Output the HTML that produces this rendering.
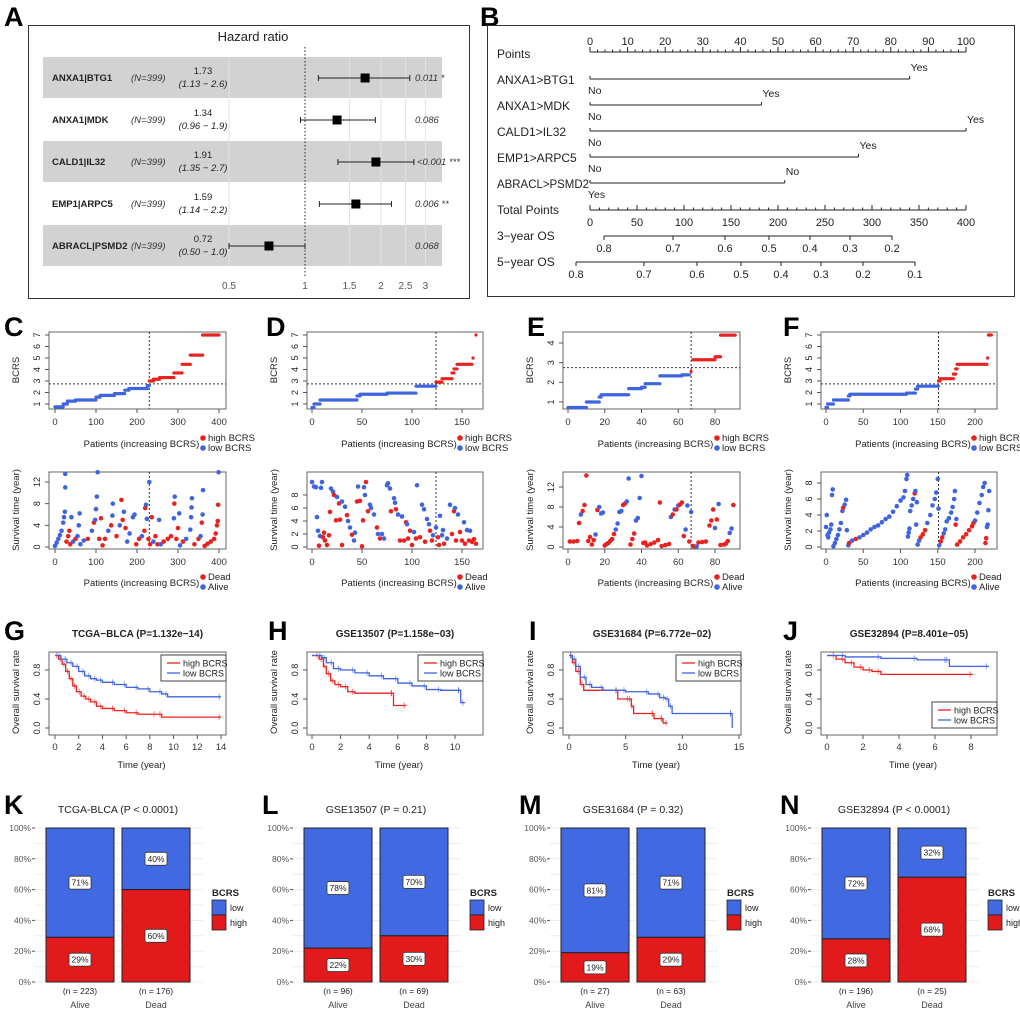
<!DOCTYPE html>
<html><head><meta charset="utf-8">
<style>
html,body{margin:0;padding:0;background:#fff;}
svg{display:block;font-family:"Liberation Sans",Arial,sans-serif;}
</style></head>
<body>
<svg id="fig" width="1020" height="1012" viewBox="0 0 1020 1012" xmlns="http://www.w3.org/2000/svg"></svg>
<script>
// ---------- DATA ----------
const hrNames=["ANXA1|BTG1","ANXA1|MDK","CALD1|IL32","EMP1|ARPC5","ABRACL|PSMD2"];
const hrValues=[1.73,1.34,1.91,1.59,0.72];
const hrLow=[1.13,0.96,1.35,1.14,0.50];
const hrHigh=[2.6,1.9,2.7,2.2,1.0];
const hrLowTxt=["1.13","0.96","1.35","1.14","0.50"];
const hrHighTxt=["2.6","1.9","2.7","2.2","1.0"];
const hrP=["0.011 *","0.086","<0.001 ***","0.006 **","0.068"];
const hrTicks=[0.5,1,1.5,2,2.5,3];

const nomoVars=["ANXA1>BTG1","ANXA1>MDK","CALD1>IL32","EMP1>ARPC5","ABRACL>PSMD2"];
const nomoEnd=[85,45.6,100,71.4,51.8];
const nomoEndLbl=["Yes","Yes","Yes","Yes","No"];
const nomoStartLbl=["No","No","No","No","Yes"];
const os3Probs=[0.8,0.7,0.6,0.5,0.4,0.3,0.2];
const os3Pts=[14.9,88.3,143.6,190.4,234,276.6,321.3];
const os5Probs=[0.8,0.7,0.6,0.5,0.4,0.3,0.2,0.1];
const os5Pts=[-14.9,57.4,113.8,160.6,203.2,245.7,290.4,345.7];

const riskN=[399,166,91,222];
const riskCut=[230,124,67,151];
const stepsC=[[0,20,0.75],[20,30,1.0],[30,50,1.25],[50,100,1.35],[100,110,1.6],[110,145,1.75],[145,170,1.9],[170,180,2.2],[180,225,2.35],[225,230,2.6],[230,240,3.0],[240,255,3.15],[255,290,3.3],[290,310,3.7],[310,330,4.45],[330,360,5.25],[360,400,7.0]];
const stepsD=[[0,2,0.7],[2,8,1.0],[8,45,1.35],[45,48,1.7],[48,75,1.85],[75,104,1.95],[104,124,2.55],[124,130,2.9],[130,140,3.2],[140,142,3.7],[142,145,4.05],[145,160,4.45],[161,161,5.0],[164,164,7.0]];
const stepsE=[[0,10,0.72],[10,17,1.0],[17,18,1.25],[18,33,1.37],[33,40,1.68],[40,42,1.75],[42,50,1.93],[50,62,2.33],[62,66,2.38],[67,67,2.55],[68,80,3.15],[80,83,3.3],[83,91,4.4]];
const stepsF=[[0,2,0.7],[2,10,1.0],[10,30,1.35],[30,32,1.7],[32,108,1.85],[108,120,1.95],[120,123,2.3],[123,151,2.55],[151,153,3.0],[153,171,3.2],[171,174,3.6],[174,176,4.05],[176,216,4.45],[217,217,5.0],[218,222,7.0]];

const survC=[[0,0.2,0],[4,0.8,0],[8,1.5,0],[12,2.2,0],[16,3,0],[20,4.5,0],[22,5.5,0],[24,6.5,0],[25,11,0],[25,13.5,0],[28,1,1],[32,2,1],[35,3,1],[37,0.5,1],[40,5.5,0],[44,1,0],[50,1.5,1],[55,2,0],[58,4,0],[60,6.2,0],[62,0.5,0],[70,1.2,0],[80,1.5,1],[90,3,0],[95,4.5,1],[98,5,0],[100,7,0],[102,9.3,0],[104,13.8,0],[108,1.5,1],[112,5.3,1],[116,0.3,1],[122,1.5,1],[130,3,0],[137,4,1],[140,5.8,0],[141,8,0],[150,2,1],[158,4,0],[162,8.7,1],[165,5,1],[168,6.5,0],[172,3.5,1],[176,1,0],[182,2.5,0],[190,5.5,0],[194,6,0],[198,0.5,1],[205,1.5,1],[212,2,0],[218,3,1],[220,7.2,1],[222,7.8,0],[224,5.2,0],[228,1.5,1],[230,12,0],[232,0.5,1],[236,5.5,1],[240,1,0],[245,2,1],[250,0.5,1],[254,5,0],[258,0.5,0],[265,1,1],[275,1.5,1],[283,2,1],[290,5.3,0],[291,8,1],[292,9.3,0],[296,1.5,1],[300,3.5,1],[303,6.2,0],[305,0.3,0],[312,1,1],[320,1.5,0],[330,3.2,0],[332,5.5,0],[333,7.3,0],[334,9,0],[340,0.5,1],[350,1.5,1],[355,2,0],[358,4.5,1],[360,6,0],[361,10.5,0],[365,0.2,1],[372,0.6,1],[380,1,1],[388,1.5,1],[392,2.5,1],[395,4,1],[397,4.8,1],[398,7.8,1],[399,13.8,0]];
const survD=[[0,10,0],[2,9.3,0],[4,9.2,0],[5,4.6,0],[6,2.5,0],[7,0.2,1],[8,1.7,0],[9,9.1,0],[10,10,0],[11,1.5,1],[12,2.2,1],[13,1,1],[15,0.3,1],[17,1.8,1],[18,5.4,1],[19,9,0],[21,8.5,0],[22,8,1],[24,4.1,1],[25,7.7,0],[27,6.7,1],[28,4.2,1],[30,0.3,1],[30,7,0],[33,6.2,0],[35,4.9,1],[36,4,0],[38,3,0],[40,1.9,1],[42,1,0],[43,2.2,0],[45,7,1],[46,9.3,0],[48,7.1,1],[50,0.1,1],[51,4.1,1],[52,9.2,0],[53,8,0],[54,10,1],[56,5.5,1],[58,6.5,0],[59,6,0],[62,5,0],[65,3,1],[66,2,0],[68,1.3,1],[70,2,0],[72,1.3,0],[75,9.5,0],[76,9.8,0],[78,9,0],[79,5.5,1],[82,7.5,0],[83,6.8,0],[84,5.8,1],[86,5,0],[88,1,1],[90,4.7,0],[92,1,1],[94,3.8,1],[95,3.5,0],[96,1.3,1],[98,2.5,1],[100,0.3,1],[102,2.3,0],[104,1.3,1],[105,9.5,0],[108,1.5,1],[110,6.5,0],[112,5.8,0],[113,0.8,1],[115,4.3,0],[117,3.5,0],[118,2.5,1],[120,1,1],[121,1.8,0],[124,3,0],[126,1.5,1],[127,0.3,1],[128,4.8,0],[130,1.8,0],[131,2.6,0],[132,0.5,1],[135,1.3,0],[138,6.5,0],[140,2,1],[142,5.5,1],[143,6,0],[144,1,1],[146,5,0],[148,2.3,1],[150,1,1],[152,3.8,0],[153,0.5,1],[155,2.6,0],[157,1,1],[158,2.5,0],[160,0.8,1],[162,1.2,1],[164,0.5,1]];
const survE=[[1,1.1,1],[3,1.1,1],[5,1.2,1],[6,4.8,1],[7,6.5,0],[8,7.2,1],[9,8.4,1],[10,14.3,1],[11,1.2,1],[12,2,1],[13,0.5,1],[14,1.4,1],[15,2.5,0],[16,7.4,1],[17,8,0],[18,6.7,0],[19,6.9,0],[20,0.3,1],[21,0.6,1],[22,0.8,1],[23,1.2,1],[24,1.6,1],[25,2.6,1],[26,3.5,0],[27,4.7,0],[28,7,0],[29,7.2,0],[30,8.4,1],[31,8.7,1],[32,9.1,0],[33,13.7,0],[34,0.5,1],[35,1.6,1],[36,2.7,1],[37,5.3,0],[38,5.8,0],[39,9.8,0],[40,14.2,0],[41,0.8,1],[42,0.9,1],[43,0.3,1],[45,0.6,1],[47,0.9,1],[49,1.4,1],[50,8.9,1],[51,0.2,1],[53,0.4,1],[55,0.6,1],[56,6,0],[57,6.5,1],[58,7.5,0],[59,7.5,1],[60,8.3,0],[61,8.5,1],[62,8.9,1],[63,2.2,1],[64,3.5,0],[65,8.3,0],[66,1.1,1],[67,7,0],[68,0.2,1],[69,0.1,1],[70,0.1,0],[71,0.9,1],[73,1,1],[75,1.1,1],[77,4.3,1],[78,5.3,1],[79,7.5,1],[80,3.8,0],[81,5.5,1],[82,8.6,0],[83,0.4,1],[85,0.5,1],[86,0.7,1],[87,1.2,1],[88,2.8,0],[89,3.7,0],[90,8.4,1]];
const survF=[[0,2.5,0],[1,4,0],[2,1.5,0],[3,1.2,0],[4,1.8,0],[6,2.2,0],[7,2.8,0],[8,6.5,0],[9,7.2,0],[10,0.1,0],[12,0.5,0],[14,1,0],[16,1.5,0],[18,2.2,0],[20,3,0],[22,4.5,0],[23,4.9,1],[25,5.3,0],[27,5.9,0],[28,2.1,0],[30,0.2,0],[31,0.5,1],[35,0.8,0],[40,1,1],[45,1.2,0],[50,1.5,0],[55,1.8,0],[60,2.2,0],[65,2.5,0],[70,2.7,0],[75,3.1,0],[80,3.5,0],[85,3.8,0],[90,4.4,0],[95,5.1,0],[100,5.8,0],[104,6.2,0],[106,7,0],[108,8.5,0],[109,9,0],[110,1.3,0],[111,1.8,0],[112,2.3,0],[113,4.5,0],[115,5.2,0],[117,6,0],[119,6.7,1],[120,7,0],[121,2.8,0],[122,5.6,0],[123,0.3,0],[125,0.8,0],[127,1.2,1],[130,1.6,1],[133,2.1,1],[136,3,0],[140,4,0],[143,5.2,0],[146,6,0],[148,6.8,0],[150,8.5,0],[151,4.8,0],[152,0.2,0],[154,0.7,1],[156,1.2,1],[158,1.7,0],[160,2.2,0],[162,3.2,0],[165,3.6,0],[168,4.3,0],[170,5,0],[172,6,0],[173,7,0],[174,2.8,1],[175,3.5,0],[176,0.3,1],[180,0.7,1],[184,1.2,1],[188,1.6,1],[192,2.1,1],[196,2.6,1],[198,3,1],[200,3.3,0],[203,4.3,0],[206,5.5,0],[209,6.5,0],[211,7.5,0],[213,8,0],[214,0.5,1],[215,1.1,1],[216,2.5,0],[217,2.8,0],[218,4.6,0],[219,7,0]];

const kmTitles=["TCGA−BLCA (P=1.132e−14)","GSE13507 (P=1.158e−03)","GSE31684 (P=6.772e−02)","GSE32894 (P=8.401e−05)"];
const kmHighG=[[0,1],[0.3,0.95],[0.6,0.88],[0.9,0.78],[1.2,0.68],[1.5,0.58],[1.8,0.5],[2.2,0.44],[2.6,0.4],[3,0.36],[3.5,0.3],[4,0.27],[5,0.24],[6,0.21],[7,0.19],[8.5,0.19],[9,0.15],[14,0.15]];
const kmLowG=[[0,1],[0.5,0.95],[1,0.9],[1.5,0.85],[2,0.78],[2.5,0.72],[3,0.68],[3.5,0.66],[4,0.63],[5,0.6],[6,0.56],[7,0.54],[8,0.5],[9,0.47],[9.5,0.43],[14,0.43]];
const kmHighH=[[0,1],[0.5,0.95],[0.8,0.85],[1,0.75],[1.3,0.65],[1.6,0.6],[2,0.57],[2.5,0.5],[3,0.48],[5.7,0.48],[5.7,0.31],[6.6,0.31]];
const kmLowH=[[0,1],[0.7,0.97],[1,0.9],[1.5,0.82],[2,0.8],[3,0.76],[4,0.72],[5,0.68],[6,0.62],[7,0.58],[8,0.53],[9,0.52],[10.4,0.52],[10.4,0.35],[10.7,0.35]];
const kmHighI=[[0,1],[0.3,0.9],[0.6,0.78],[1,0.6],[1.3,0.52],[4.3,0.52],[4.3,0.4],[5.3,0.4],[5.5,0.3],[5.7,0.2],[7.5,0.2],[7.5,0.13],[8.3,0.13],[8.3,0.07],[8.7,0.07]];
const kmLowI=[[0,1],[0.3,0.95],[0.6,0.85],[1,0.7],[1.5,0.6],[2,0.56],[3,0.52],[5,0.5],[7,0.47],[8,0.42],[8.5,0.4],[8.8,0.3],[9.1,0.2],[14.4,0.2],[14.4,0]];
const kmHighJ=[[0,1],[0.5,0.95],[1,0.9],[1.5,0.84],[2,0.8],[2.5,0.78],[3,0.74],[8.1,0.74]];
const kmLowJ=[[0,1],[1,0.98],[3,0.96],[5,0.94],[6.7,0.94],[6.8,0.85],[9,0.85]];

const barTitles=["TCGA-BLCA (P < 0.0001)","GSE13507 (P = 0.21)","GSE31684 (P = 0.32)","GSE32894 (P < 0.0001)"];
const aliveHighPct=[29,22,19,28];
const deadHighPct=[60,30,29,68];
const aliveN=[223,96,27,196];
const deadN=[176,69,63,25];

// ---------- HELPERS ----------
const NS="http://www.w3.org/2000/svg";
const svg=document.getElementById('fig');
const RED="#e8231f", BLUE="#3f64e0";
function mk(tag,a,name,parent){
  const e=document.createElementNS(NS,tag);
  for(const k in a) e.setAttribute(k,a[k]);
  
  
  (parent||svg).appendChild(e);
  return e;
}
function tx(x,y,s,a,name){const e=mk('text',Object.assign({x:x,y:y,'font-size':10,fill:'#222'},a||{}),name);e.textContent=s;return e;}
function ln(x1,y1,x2,y2,a,name){return mk('line',Object.assign({x1:x1,y1:y1,x2:x2,y2:y2,stroke:'#222','stroke-width':1},a||{}),name);}
function letter(x,y,s){tx(x,y,s,{'font-size':27,'font-weight':'bold',fill:'#000'},'panel-label-'+s.toLowerCase());}

// ---------- PANEL A ----------
letter(4,26,"A");
mk('rect',{x:28.5,y:25.5,width:441,height:273,fill:'#fff',stroke:'#333','stroke-width':1},'forest-frame');
tx(253,41,"Hazard ratio",{'font-size':13,'text-anchor':'middle'},'forest-title');
const hrX=v=>305+76*Math.log2(v);
const rowY=i=>78+42*i;
hrNames.forEach((n,i)=>{ if(i%2===0) mk('rect',{x:43,y:rowY(i)-21,width:399,height:41,fill:'#d2d2d2'},'forest-row-band');});
hrTicks.forEach(t=>{ if(t!==1) ln(hrX(t),57,hrX(t),266,{stroke:'#e2e2e2'},'forest-gridline');
  tx(hrX(t),289,String(t),{'font-size':10,fill:'#555','text-anchor':'middle'},'forest-tick-label');});
ln(305,47,305,276,{'stroke-dasharray':'1.5,2','stroke-width':1},'forest-reference-line');
hrNames.forEach((n,i)=>{
  const y=rowY(i);
  tx(52,y+3,n,{'font-size':9.5,'font-weight':'bold'},'forest-variable-name');
  tx(131,y+3,"(N=399)",{'font-size':9.5,'font-style':'italic',fill:'#333'},'forest-n');
  tx(203,y-4,hrValues[i].toFixed(2),{'font-size':9.5,'text-anchor':'middle'},'forest-hr-value');
  tx(203,y+9,"("+hrLowTxt[i]+" − "+hrHighTxt[i]+")",{'font-size':9.5,'font-style':'italic','text-anchor':'middle'},'forest-ci-text');
  const a=hrX(hrLow[i]),b=hrX(hrHigh[i]);
  ln(a,y,b,y,{},'forest-ci-line');
  ln(a,y-3,a,y+3,{},'forest-ci-cap');
  ln(b,y-3,b,y+3,{},'forest-ci-cap');
  const c=hrX(hrValues[i]);
  mk('rect',{x:c-4.5,y:y-4.5,width:9,height:9,fill:'#000'},'forest-point');
  tx(hrP[i].startsWith('<')?417:415,y+3,hrP[i],{'font-size':9.5,'font-style':'italic',fill:'#333'},'forest-p-value');
});

// ---------- PANEL B ----------
letter(480,26,"B");
mk('rect',{x:487.5,y:25.5,width:527,height:271,fill:'#fff',stroke:'#333','stroke-width':1},'nomogram-frame');
const ptX=v=>590+3.76*v;
const totX=v=>590+0.94*v;
tx(497,58,"Points",{'font-size':12},'nomogram-points-label');
ln(590,52,966,52,{},'points-axis');
for(let v=0;v<=100;v+=2){ln(ptX(v),52,ptX(v),v%10===0?47:49.5,{},'points-tick');}
for(let v=0;v<=100;v+=10){tx(ptX(v),45,String(v),{'font-size':11,'text-anchor':'middle'},'points-tick-label');}
nomoVars.forEach((n,i)=>{
  const y=79+26*i;
  const attrs={'font-size':12};
  if(n.length>11){attrs.textLength=92;attrs.lengthAdjust='spacingAndGlyphs';}
  tx(497,y+5,n,attrs,'nomogram-variable-label');
  ln(ptX(0),y,ptX(nomoEnd[i]),y,{},'nomogram-variable-line');
  ln(ptX(0),y,ptX(0),y-3,{},'nomogram-variable-tick');
  ln(ptX(nomoEnd[i]),y,ptX(nomoEnd[i]),y-3,{},'nomogram-variable-tick');
  tx(ptX(nomoEnd[i])+1,y-8,nomoEndLbl[i],{'font-size':10.5},'nomogram-level-label');
  tx(ptX(0)-2,y+15,nomoStartLbl[i],{'font-size':10.5},'nomogram-level-label');
});
tx(497,214,"Total Points",{'font-size':12},'total-points-label');
ln(590,210,966,210,{},'total-points-axis');
for(let v=0;v<=400;v+=10){ln(totX(v),210,totX(v),v%50===0?205:207.5,{},'total-points-tick');}
for(let v=0;v<=400;v+=50){tx(totX(v),226,String(v),{'font-size':11,'text-anchor':'middle'},'total-points-tick-label');}
function osAxis(y,pts,probs,label){
  tx(497,y+4,label,{'font-size':12},'os-axis-label');
  ln(totX(pts[0]),y,totX(pts[pts.length-1]),y,{},'os-axis');
  pts.forEach((p,i)=>{ln(totX(p),y,totX(p),y+4,{},'os-tick');
    tx(totX(p),y+16,probs[i].toFixed(1),{'font-size':11,'text-anchor':'middle'},'os-tick-label');});
}
osAxis(236,os3Pts,os3Probs,"3−year OS");
osAxis(262,os5Pts,os5Probs,"5−year OS");

// ---------- PANELS C-F ----------
const rpCfg=[
 {L:"C",lx:4,bx:49,bw:177,x0:55,x1:219,xv:400,xt:[0,100,200,300,400],steps:stepsC,surv:survC,yt:[1,2,3,4,5,6,7],ylo:1,yhi:7,tyl:404,tyh:335,sv:12,sy:482,st:[0,4,8,12]},
 {L:"D",lx:266,bx:307,bw:176,x0:312,x1:462,xv:150,xt:[0,50,100,150],steps:stepsD,surv:survD,yt:[1,2,3,4,5,6,7],ylo:1,yhi:7,tyl:404,tyh:335,sv:8,sy:495,st:[0,2,4,6,8]},
 {L:"E",lx:527,bx:563,bw:177,x0:568,x1:715,xv:80,xt:[0,20,40,60,80],steps:stepsE,surv:survE,yt:[1,2,3,4],ylo:1,yhi:4,tyl:402,tyh:343,sv:12,sy:487,st:[0,4,8,12]},
 {L:"F",lx:783,bx:821,bw:176,x0:826,x1:975,xv:200,xt:[0,50,100,150,200],steps:stepsF,surv:survF,yt:[1,2,3,4,5,6,7],ylo:1,yhi:7,tyl:404,tyh:335,sv:8,sy:483,st:[0,2,4,6,8]}
];
function rotLabel(x,y,s,size,name){const e=tx(x,y,s,{'font-size':size,'text-anchor':'middle',transform:'rotate(-90 '+x+' '+y+')',fill:'#222'},name);return e;}
function legend2(x,y,c1,t1,c2,t2,name){
  mk('circle',{cx:x,cy:y-3,r:2.8,fill:c1},name+'-marker');
  tx(x+5,y,t1,{'font-size':9.5},name+'-text');
  mk('circle',{cx:x,cy:y+7,r:2.8,fill:c2},name+'-marker');
  tx(x+5,y+10,t2,{'font-size':9.5},name+'-text');
}
rpCfg.forEach((c,pi)=>{
  letter(c.lx,336,c.L);
  const X=v=>c.x0+(c.x1-c.x0)*v/c.xv;
  const Y=v=>c.tyl+(c.tyh-c.tyl)*(v-c.ylo)/(c.yhi-c.ylo);
  const cut=riskCut[pi];
  mk('rect',{x:c.bx,y:332,width:c.bw,height:77,fill:'#fff',stroke:'#666','stroke-width':1},'risk-score-plot-frame');
  ln(c.bx,Y(2.75),c.bx+c.bw,Y(2.75),{'stroke-dasharray':'2,2',stroke:'#333'},'risk-threshold-line');
  ln(X(cut),332,X(cut),409,{'stroke-dasharray':'2,2',stroke:'#333'},'risk-cutoff-line');
  c.steps.forEach(s=>{
    const col=s[0]>=cut?RED:BLUE;
    mk('line',{x1:X(s[0]),y1:Y(s[2]),x2:X(s[1]),y2:Y(s[2]),stroke:col,'stroke-width':3.2,'stroke-linecap':'round'},'risk-score-points');
  });
  c.xt.forEach(t=>{ln(X(t),409,X(t),413,{stroke:'#555'},'x-tick');tx(X(t),425,String(t),{'font-size':9.5,'text-anchor':'middle',fill:'#333'},'x-tick-label');});
  c.yt.forEach(t=>{ln(c.bx,Y(t),c.bx-4,Y(t),{stroke:'#555'},'y-tick');rotLabel(c.bx-9,Y(t),String(t),9,'y-tick-label');});
  rotLabel(c.bx-30,370,"BCRS",9.5,'y-axis-title');
  tx(c.bx+c.bw/2+4,447,"Patients (increasing BCRS)",{'font-size':9.5,'text-anchor':'middle'},'x-axis-title');
  legend2(c.bx+c.bw-23,441,RED,"high BCRS",BLUE,"low BCRS",'risk-legend');
  const SY=v=>547+(c.sy-547)*v/c.sv;
  mk('rect',{x:c.bx,y:472,width:c.bw,height:77,fill:'#fff',stroke:'#666','stroke-width':1},'survival-plot-frame');
  ln(X(cut),472,X(cut),549,{'stroke-dasharray':'2,2',stroke:'#333'},'survival-cutoff-line');
  c.surv.forEach(p=>{mk('circle',{cx:X(p[0]),cy:SY(p[1]),r:2.3,fill:p[2]?RED:BLUE},'survival-point');});
  c.xt.forEach(t=>{ln(X(t),549,X(t),553,{stroke:'#555'},'x-tick');tx(X(t),565,String(t),{'font-size':9.5,'text-anchor':'middle',fill:'#333'},'x-tick-label');});
  c.st.forEach(t=>{ln(c.bx,SY(t),c.bx-4,SY(t),{stroke:'#555'},'y-tick');rotLabel(c.bx-9,SY(t),String(t),9,'y-tick-label');});
  rotLabel(c.bx-30,510,"Survival time (year)",9.5,'y-axis-title');
  tx(c.bx+c.bw/2+4,586,"Patients (increasing BCRS)",{'font-size':9.5,'text-anchor':'middle'},'x-axis-title');
  legend2(c.bx+c.bw-23,580,RED,"Dead",BLUE,"Alive",'status-legend');
});

// ---------- PANELS G-J ----------
const kmCfg=[
 {L:"G",lx:4,bx:49,bw:177,x0:55,x1:221,xv:14,xt:[0,2,4,6,8,10,12,14],hi:kmHighG,lo:kmLowG,leg:'top'},
 {L:"H",lx:268,bx:307,bw:176,x0:312,x1:455,xv:10,xt:[0,2,4,6,8,10],hi:kmHighH,lo:kmLowH,leg:'top'},
 {L:"I",lx:529,bx:563,bw:178,x0:569,x1:739,xv:15,xt:[0,5,10,15],hi:kmHighI,lo:kmLowI,leg:'top'},
 {L:"J",lx:783,bx:821,bw:176,x0:827,x1:971,xv:8,xt:[0,2,4,6,8],hi:kmHighJ,lo:kmLowJ,leg:'bottom'}
];
kmCfg.forEach((c,pi)=>{
  letter(c.lx,640,c.L);
  const X=v=>c.x0+(c.x1-c.x0)*v/c.xv;
  const Y=v=>728-72.5*v;
  tx(c.bx+c.bw/2,637,kmTitles[pi],{'font-size':10,'font-weight':'bold','text-anchor':'middle'},'km-title');
  mk('rect',{x:c.bx,y:652,width:c.bw,height:83,fill:'#fff',stroke:'#666','stroke-width':1},'km-plot-frame');
  [[c.hi,RED,'km-curve-high'],[c.lo,BLUE,'km-curve-low']].forEach(([d,col,nm])=>{
    let p="M"+X(d[0][0])+","+Y(d[0][1]);
    for(let i=1;i<d.length;i++){p+=" H"+X(d[i][0])+" V"+Y(d[i][1]);}
    mk('path',{d:p,fill:'none',stroke:col,'stroke-width':1.3},nm);
    for(let i=1;i<d.length;i++){const xx=X(d[i][0]-0.15),yy=Y(d[i-1][1]);ln(xx,yy-3,xx,yy+3,{stroke:col,'stroke-opacity':0.6},'km-censor-mark');}
  });
  c.xt.forEach(t=>{ln(X(t),735,X(t),739,{stroke:'#555'},'x-tick');tx(X(t),750,String(t),{'font-size':9.5,'text-anchor':'middle',fill:'#333'},'x-tick-label');});
  [0,0.4,0.8].forEach(t=>{ln(c.bx,Y(t),c.bx-4,Y(t),{stroke:'#555'},'y-tick');rotLabel(c.bx-9,Y(t),t.toFixed(1),9,'y-tick-label');});
  rotLabel(c.bx-30,692,"Overall survival rate",9.5,'y-axis-title');
  tx(c.bx+c.bw/2+4,768,"Time (year)",{'font-size':9.5,'text-anchor':'middle'},'x-axis-title');
  const ly=c.leg==='top'?655:702;
  const lx=c.bx+c.bw-65;
  mk('rect',{x:lx,y:ly,width:65,height:26,fill:'#fff',stroke:'#444','stroke-width':1},'km-legend-box');
  ln(lx+6,ly+8,lx+19,ly+8,{stroke:RED,'stroke-width':1.3},'km-legend-line');
  tx(lx+22,ly+11.5,"high BCRS",{'font-size':9},'km-legend-text');
  ln(lx+6,ly+18,lx+19,ly+18,{stroke:BLUE,'stroke-width':1.3},'km-legend-line');
  tx(lx+22,ly+21.5,"low BCRS",{'font-size':9},'km-legend-text');
});

// ---------- PANELS K-N ----------
const barOff=[0,258,515,776];
const barLetters=["K","L","M","N"];
const BRED="#e31a1c", BBLUE="#4169e1";
barOff.forEach((o,pi)=>{
  letter(4+o,814,barLetters[pi]);
  const Y=v=>982-1.54*v;
  tx(118+o,813,barTitles[pi],{'font-size':10.5,'text-anchor':'middle',fill:'#222'},'bar-title');
  for(let v=0;v<=100;v+=10) ln(35+o,Y(v),203+o,Y(v),{stroke:'#ececec'},'bar-gridline');
  for(let v=0;v<=100;v+=20){tx(31+o,Y(v)+3,v+"%",{'font-size':8.5,fill:'#555','text-anchor':'end'},'bar-y-tick-label');ln(32+o,Y(v),35+o,Y(v),{stroke:'#555'},'bar-y-tick');}
  const bars=[[46,aliveHighPct[pi],aliveN[pi],"Alive"],[122,deadHighPct[pi],deadN[pi],"Dead"]];
  bars.forEach(([bx,h,n,lab])=>{
    const x=bx+o,w=68;
    mk('rect',{x:x,y:Y(100),width:w,height:Y(h)-Y(100),fill:BBLUE,stroke:'#222','stroke-width':1},'bar-low-segment');
    mk('rect',{x:x,y:Y(h),width:w,height:Y(0)-Y(h),fill:BRED,stroke:'#222','stroke-width':1},'bar-high-segment');
    [[h/2,h],[h+(100-h)/2,100-h]].forEach(([m,val])=>{
      mk('rect',{x:x+w/2-11,y:Y(m)-6.5,width:22,height:13,rx:2,fill:'#fff',stroke:'#333','stroke-width':0.8},'bar-percent-box');
      tx(x+w/2,Y(m)+3,val+"%",{'font-size':8.5,'text-anchor':'middle'},'bar-percent-label');
    });
    tx(x+w/2,994,"(n = "+n+")",{'font-size':8.5,'text-anchor':'middle'},'bar-n-label');
    tx(x+w/2,1008,lab,{'font-size':9,'text-anchor':'middle',fill:'#444'},'bar-x-label');
  });
  tx(212+o,896,"BCRS",{'font-size':9.5,'font-weight':'bold'},'bar-legend-title');
  mk('rect',{x:212+o,y:900,width:14,height:15,fill:BBLUE,stroke:'#222','stroke-width':0.8},'bar-legend-low-key');
  tx(230+o,911,"low",{'font-size':9},'bar-legend-low-text');
  mk('rect',{x:212+o,y:915,width:14,height:15,fill:BRED,stroke:'#222','stroke-width':0.8},'bar-legend-high-key');
  tx(230+o,926,"high",{'font-size':9},'bar-legend-high-text');
});
</script>
</body></html>
